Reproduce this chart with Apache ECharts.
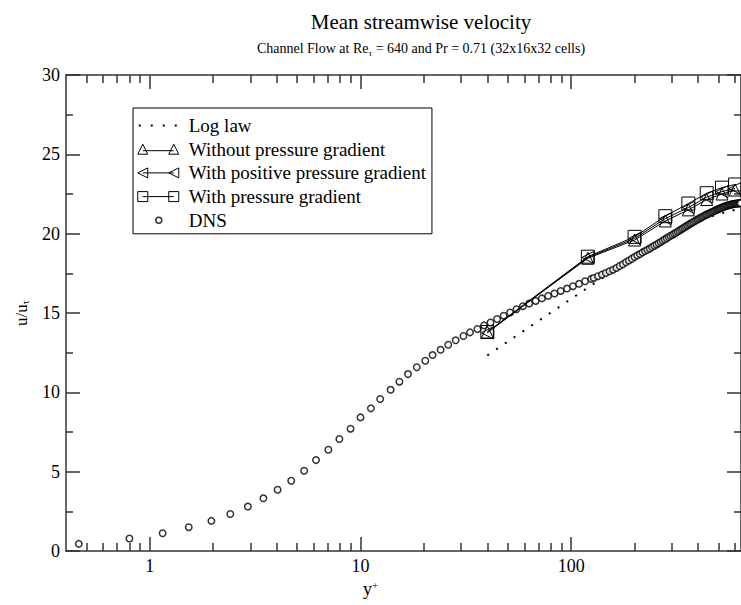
<!DOCTYPE html>
<html><head><meta charset="utf-8">
<script src="https://cdn.jsdelivr.net/npm/echarts@6/dist/echarts.min.js"></script>
<style>html,body{margin:0;padding:0;background:#fff}#c{width:741px;height:605px}</style>
</head><body><div id="c"></div>
<script>
// ---- tick labels / positions ----
const xMajorTicks = [1, 10, 100];
const xMinorTicks = [0.5,0.6,0.7,0.8,0.9,2,3,4,5,6,7,8,9,20,30,40,50,60,70,80,90,200,300,400,500,600];

// ---- LES results (cell centres) ----
const lesYPlus   = [40, 120, 200, 280, 360, 440, 520, 600];
const withoutPG  = [13.80, 18.45, 19.60, 20.80, 21.50, 22.15, 22.50, 22.75];
const positivePG = [13.75, 18.50, 19.70, 20.95, 21.65, 22.30, 22.65, 22.85];
const withPG     = [13.80, 18.55, 19.80, 21.10, 21.90, 22.55, 22.90, 23.10];

// ---- Log law (dotted) ----
const logLawYPlus = [40, 120, 200, 280, 360, 440, 520, 600];
const logLawU     = [12.33, 16.60, 18.55, 19.75, 20.50, 21.00, 21.30, 21.50];

// ---- DNS ----
const dnsYPlus = [0.46,0.80,1.15,1.53,1.96,2.41,2.92,3.46,4.04,4.69,5.40,6.15,7.04,7.94,8.97,10.0,11.2,12.4,13.9,15.3,16.8,18.5,20.3,22.0,24.0,26.1,28.3,30.8,33.1,35.9,38.6,41.4,44.5,47.8,51.3,55.0,59.0,63.2,67.8,72.6,77.8,83.3,89.2,95.5,102,109,116.5,124.5,
  128,134,140,146,152,158,164,170,176,182,188,194,200,206,212,218,224,230,236,242,248,254,260,266,272,278,284,290,296,302,308,314,320,326,332,338,344,350,356,362,368,374,380,386,392,398,404,410,416,422,428,434,440,446,452,458,464,470,476,482,488,494,500,506,512,518,524,530,536,542,548,554,560,566,572,578,584,590,596,602,608,614,620,626,632,638];
const dnsU     = [0.45,0.79,1.12,1.50,1.90,2.33,2.80,3.32,3.86,4.43,5.06,5.73,6.38,7.06,7.71,8.42,8.99,9.58,10.16,10.67,11.15,11.58,11.99,12.35,12.68,13.00,13.28,13.55,13.78,13.99,14.22,14.40,14.62,14.83,15.03,15.24,15.43,15.60,15.76,15.92,16.08,16.23,16.39,16.54,16.69,16.84,17.00,17.15,
  17.21,17.32,17.42,17.52,17.63,17.73,17.84,17.96,18.07,18.20,18.31,18.42,18.53,18.63,18.72,18.82,18.90,18.98,19.06,19.15,19.24,19.32,19.40,19.48,19.56,19.64,19.71,19.79,19.86,19.92,20.00,20.06,20.13,20.19,20.26,20.33,20.39,20.45,20.51,20.57,20.63,20.69,20.74,20.79,20.84,20.89,20.94,20.99,21.03,21.08,21.12,21.17,21.21,21.24,21.28,21.31,21.35,21.38,21.42,21.45,21.49,21.52,21.55,21.58,21.61,21.64,21.66,21.69,21.71,21.74,21.76,21.78,21.80,21.81,21.83,21.84,21.86,21.87,21.88,21.89,21.90,21.90,21.91,21.91,21.92,21.92];

const F = '"Liberation Serif", "Times New Roman", serif';
const zip = (xs, ys) => xs.map((x, i) => [x, ys[i]]);

const axisLineStyle = { color: '#333', width: 1.5 };
function xAxisDef(pos, ticks, len, main) {
  return {
    type: 'log', logBase: 10, min: 0.4, max: 640, position: pos,
    axisLine: { show: main, lineStyle: axisLineStyle },
    axisTick: { show: true, inside: true, length: len, customValues: ticks, lineStyle: { color: '#333', width: 1.5 } },
    axisLabel: (main && pos === 'bottom') ? { show: true, customValues: xMajorTicks, fontFamily: F, fontSize: 18, color: '#000', margin: 6 } : { show: false },
    splitLine: { show: false }, minorTick: { show: false }, minorSplitLine: { show: false },
    name: (main && pos === 'bottom') ? 'y{p|+}' : '',
    nameLocation: 'middle', nameGap: 27,
    nameTextStyle: { fontFamily: F, fontSize: 18, color: '#000', padding: [0, 66, 0, 0],
      rich: { p: { fontFamily: F, fontSize: 11, color: '#000', verticalAlign: 'top', lineHeight: 8 } } }
  };
}
function yAxisDef(pos, main) {
  return {
    type: 'value', min: 0, max: 30, interval: 5, position: pos,
    axisLine: { show: true, lineStyle: axisLineStyle },
    axisTick: { show: true, inside: true, length: 14, lineStyle: { color: '#333', width: 1.5 } },
    minorTick: { show: true, splitNumber: 2, length: 7, lineStyle: { color: '#333', width: 1.5 } },
    axisLabel: main ? { show: true, fontFamily: F, fontSize: 18, color: '#000', margin: 6 } : { show: false },
    splitLine: { show: false },
    name: main ? 'u/u{s|τ}' : '',
    nameLocation: 'middle', nameGap: 36,
    nameTextStyle: { fontFamily: F, fontSize: 17, color: '#000', rich: { s: { fontFamily: F, fontSize: 10, color: '#000', verticalAlign: 'bottom', lineHeight: 8 } } }
  };
}

const ICON_UP   = 'path://M0 0M46 12M0 11L5 1L10 11ZM31 11L36 1L41 11ZM5 7.5L36 7.5';
const ICON_LEFT = 'path://M0 0M46 12M10 1L0 6L10 11ZM41 1L31 6L41 11ZM5 6L36 6';
const ICON_SQ   = 'path://M0 0M46 12M0 1H10V11H0ZM31 1H41V11H31ZM5 6H36';
const ICON_DOT  = 'path://M0 0M46 12M1 5H3V7H1ZM13 5H15V7H13ZM25 5H27V7H25ZM37 5H39V7H37Z';
const ICON_CIR  = 'path://M0 0M46 12M18 6A3 3 0 1 0 24 6A3 3 0 1 0 18 6Z';
const hollow = { color: '#fff', borderColor: '#000', borderWidth: 1 };

const chart = echarts.init(document.getElementById('c'), null, { renderer: 'svg', width: 741, height: 605 });
chart.setOption({
  animation: false,
  backgroundColor: '#fff',
  title: {
    text: 'Mean streamwise velocity',
    subtext: 'Channel Flow at Re{s|τ} = 640 and Pr = 0.71 (32x16x32 cells)',
    left: 421, top: 10, textAlign: 'center', padding: 0, itemGap: 5,
    textStyle: { fontFamily: F, fontSize: 21, fontWeight: 'normal', color: '#000', lineHeight: 24 },
    subtextStyle: { fontFamily: F, fontSize: 14, color: '#000', lineHeight: 18,
      rich: { s: { fontFamily: F, fontSize: 9, color: '#000', verticalAlign: 'bottom', lineHeight: 9 } } }
  },
  grid: { left: 66, right: -3, top: 75, bottom: 54, containLabel: false },
  legend: {
    orient: 'vertical', left: 133, top: 108, padding: [8, 6, 4, 4],
    itemGap: 4.7, itemWidth: 46, itemHeight: 12,
    borderColor: '#000', borderWidth: 1, backgroundColor: '#fff', selectedMode: false,
    textStyle: { fontFamily: F, fontSize: 19, color: '#000', lineHeight: 14 },
    data: [
      { name: 'Log law', icon: ICON_DOT, itemStyle: { color: '#000', borderWidth: 0 } },
      { name: 'Without pressure gradient', icon: ICON_UP, itemStyle: hollow },
      { name: 'With positive pressure gradient', icon: ICON_LEFT, itemStyle: hollow },
      { name: 'With pressure gradient', icon: ICON_SQ, itemStyle: hollow },
      { name: 'DNS', icon: ICON_CIR, itemStyle: { color: '#fff', borderColor: '#000', borderWidth: 1.5 } }
    ]
  },
  xAxis: [
    xAxisDef('bottom', xMajorTicks, 14, true),
    xAxisDef('bottom', xMinorTicks, 8, false),
    xAxisDef('top', xMajorTicks, 14, true),
    xAxisDef('top', xMinorTicks, 8, false)
  ],
  yAxis: [ yAxisDef('left', true), yAxisDef('right', false) ],
  series: [
    { name: 'Log law', type: 'line', data: zip(logLawYPlus, logLawU), showSymbol: false, symbol: 'none',
      lineStyle: { color: '#000', width: 2, type: [2, 8.6], cap: 'butt' }, color: '#000', z: 2 },
    { name: 'DNS', type: 'scatter', data: zip(dnsYPlus, dnsU), symbol: 'circle', symbolSize: 6.5,
      itemStyle: { color: '#fff', borderColor: '#000', borderWidth: 1.5 }, z: 3 },
    { name: 'Without pressure gradient', type: 'line', data: zip(lesYPlus, withoutPG), symbol: 'triangle', symbolSize: 12,
      showAllSymbol: true, itemStyle: { color: 'rgba(0,0,0,0)', borderColor: '#000', borderWidth: 1 },
      lineStyle: { color: '#000', width: 1 }, color: '#000', z: 4 },
    { name: 'With positive pressure gradient', type: 'line', data: zip(lesYPlus, positivePG), symbol: 'triangle', symbolRotate: 90, symbolSize: 12,
      showAllSymbol: true, itemStyle: { color: 'rgba(0,0,0,0)', borderColor: '#000', borderWidth: 1 },
      lineStyle: { color: '#000', width: 1 }, color: '#000', z: 4 },
    { name: 'With pressure gradient', type: 'line', data: zip(lesYPlus, withPG), symbol: 'rect', symbolSize: 13,
      showAllSymbol: true, itemStyle: { color: 'rgba(0,0,0,0)', borderColor: '#000', borderWidth: 1 },
      lineStyle: { color: '#000', width: 1 }, color: '#000', z: 4 }
  ]
});
</script></body></html>
